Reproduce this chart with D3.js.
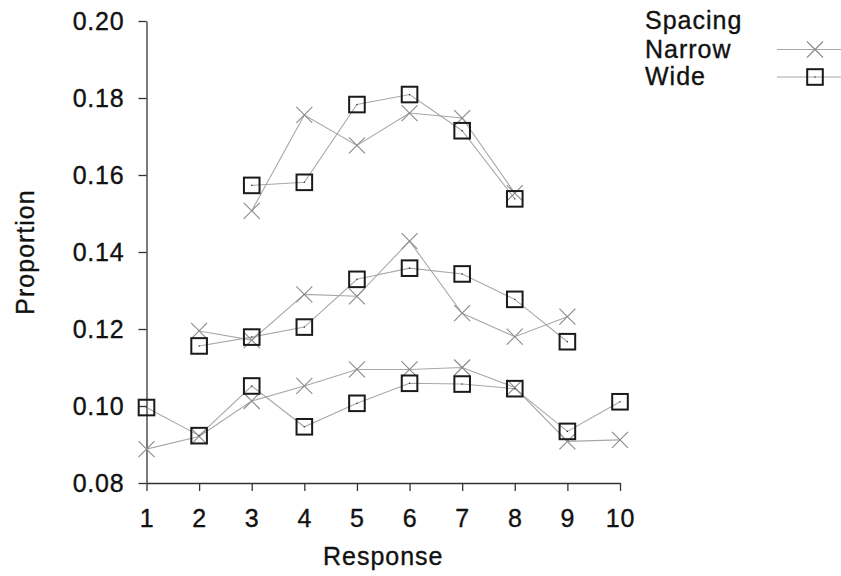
<!DOCTYPE html>
<html>
<head>
<meta charset="utf-8">
<script src="https://cdn.jsdelivr.net/npm/d3@7"></script>
<style>
  body { margin: 0; background: #fff; }
  text { font-family: "Liberation Sans", Arial, sans-serif; stroke: #111; stroke-width: 0.35px; }
</style>
</head>
<body>
<div id="chart"></div>
<script>
// proportions per response option, three scale lengths (6, 8, 10 options)
var start6 = 3, start8 = 2, start10 = 1;
var narrow6 = [0.1507, 0.1756, 0.1677, 0.1761, 0.1748, 0.1553];
var wide6   = [0.1573, 0.1581, 0.1783, 0.1809, 0.1715, 0.1538];
var narrow8 = [0.1195, 0.1171, 0.1290, 0.1285, 0.1428, 0.1241, 0.1180, 0.1232];
var wide8   = [0.1156, 0.1179, 0.1205, 0.1329, 0.1358, 0.1343, 0.1277, 0.1167];
var narrow10 = [0.0888, 0.0921, 0.1013, 0.1052, 0.1095, 0.1095, 0.1100, 0.1048, 0.0908, 0.0912];
var wide10   = [0.0996, 0.0923, 0.1052, 0.0946, 0.1007, 0.1059, 0.1057, 0.1045, 0.0934, 0.1011];

var xTicks = [1, 2, 3, 4, 5, 6, 7, 8, 9, 10];
var yTicks = [0.08, 0.10, 0.12, 0.14, 0.16, 0.18, 0.20];
var legendTitle = "Spacing";
var legendNames = ["Narrow", "Wide"];

const WIDTH = 841;
const HEIGHT = 576;
const LINE_COLOR = "#a8a8a8";
const CROSS_COLOR = "#8a8a8a";
const SQUARE_COLOR = "#1a1a1a";

var svg = d3.select("#chart")
    .append("svg")
    .attr("width", WIDTH)
    .attr("height", HEIGHT);

var xScale = d3.scaleLinear().domain([1, 10]).range([146.5, 620]),
    yScale = d3.scaleLinear().domain([0.08, 0.20]).range([483, 21]);

// axes
var yAxis = svg.append("g")
    .attr("transform", "translate(" + xScale(1) + ",0)")
    .call(d3.axisLeft(yScale).tickValues(yTicks).tickFormat(d3.format(".2f"))
        .tickSize(8).tickSizeOuter(0).tickPadding(14));

var xAxis = svg.append("g")
    .attr("transform", "translate(0," + yScale(0.08) + ")")
    .call(d3.axisBottom(xScale).tickValues(xTicks).tickFormat(d3.format("d"))
        .tickSize(8).tickSizeOuter(0).tickPadding(18));

[xAxis, yAxis].forEach(function (ax) {
    ax.selectAll("path, line").attr("stroke", "#333").attr("stroke-width", 1.3);
    ax.selectAll("text")
        .attr("fill", "#111")
        .style("font-size", "25px")
        .style("letter-spacing", "0.8px")
        .style("font-family", "'Liberation Sans', Arial, sans-serif");
});

svg.append("text")
    .attr("x", (xScale(1) + xScale(10)) / 2)
    .attr("y", 565)
    .attr("text-anchor", "middle")
    .style("font-size", "25px")
    .style("letter-spacing", "1px")
    .attr("fill", "#111")
    .text("Response");

svg.append("text")
    .attr("transform", "translate(34," + (yScale(0.08) + yScale(0.20)) / 2 + ") rotate(-90)")
    .attr("text-anchor", "middle")
    .style("font-size", "25px")
    .style("letter-spacing", "1px")
    .attr("fill", "#111")
    .text("Proportion");

function toPoints(vals, start) {
    return vals.map(function (v, i) { return [start + i, v]; });
}

var narrowSeries = [toPoints(narrow6, start6), toPoints(narrow8, start8), toPoints(narrow10, start10)];
var wideSeries = [toPoints(wide6, start6), toPoints(wide8, start8), toPoints(wide10, start10)];

var line = d3.line()
    .x(function (d) { return xScale(d[0]); })
    .y(function (d) { return yScale(d[1]); });

var plot = svg.append("g");

narrowSeries.concat(wideSeries).forEach(function (s) {
    plot.append("path")
        .datum(s)
        .attr("d", line)
        .attr("fill", "none")
        .attr("stroke", LINE_COLOR)
        .attr("stroke-width", 1.1);
});

function drawCross(g, cx, cy) {
    var r = 8;
    g.append("path")
        .attr("d", "M" + (cx - r) + "," + (cy - r) + "L" + (cx + r) + "," + (cy + r) +
                   "M" + (cx - r) + "," + (cy + r) + "L" + (cx + r) + "," + (cy - r))
        .attr("stroke", CROSS_COLOR)
        .attr("stroke-width", 1.1)
        .attr("fill", "none");
}

function drawSquare(g, cx, cy) {
    var h = 7.8;
    g.append("rect")
        .attr("x", cx - h).attr("y", cy - h)
        .attr("width", 2 * h).attr("height", 2 * h)
        .attr("fill", "none")
        .attr("stroke", SQUARE_COLOR)
        .attr("stroke-width", 2);
    g.append("rect")
        .attr("x", cx - 0.6).attr("y", cy - 0.6)
        .attr("width", 1.2).attr("height", 1.2)
        .attr("fill", "#222");
}

narrowSeries.forEach(function (s) {
    s.forEach(function (d) { drawCross(plot, xScale(d[0]), yScale(d[1])); });
});
wideSeries.forEach(function (s) {
    s.forEach(function (d) { drawSquare(plot, xScale(d[0]), yScale(d[1])); });
});

// legend
var legend = svg.append("g");
legend.append("text")
    .attr("x", 645).attr("y", 29)
    .style("font-size", "25px").style("letter-spacing", "1px")
    .attr("fill", "#111")
    .text(legendTitle);

legendNames.forEach(function (name, i) {
    var ty = 58 + i * 27;
    var ly = 49.5 + i * 27.5;
    legend.append("text")
        .attr("x", 645).attr("y", ty)
        .style("font-size", "25px").style("letter-spacing", "1px")
        .attr("fill", "#111")
        .text(name);
    legend.append("line")
        .attr("x1", 777).attr("x2", 850)
        .attr("y1", ly).attr("y2", ly)
        .attr("stroke", LINE_COLOR)
        .attr("stroke-width", 1.1);
    if (i === 0) drawCross(legend, 815, ly);
    else drawSquare(legend, 815, ly);
});
</script>
</body>
</html>
